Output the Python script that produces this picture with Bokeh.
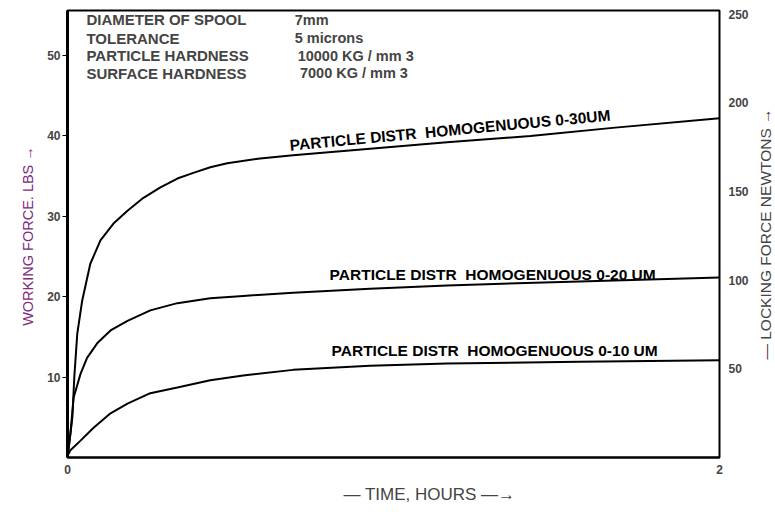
import math
from bokeh.plotting import figure
from bokeh.layouts import row
from bokeh.models import Range1d, LinearAxis, FixedTicker, Label, Title
from bokeh.embed import file_html
from bokeh.resources import INLINE

# ---- data (time in hours, working force in lbs) ----
hours_30 = [0, 0.015, 0.021, 0.030, 0.045, 0.070, 0.101, 0.141, 0.184, 0.233, 0.285,
            0.337, 0.386, 0.438, 0.490, 0.591, 0.692, 0.928, 1.164, 1.420, 1.672, 2.0]
force_30 = [0, 5.0, 10.1, 15.4, 19.5, 24.1, 27.0, 29.1, 30.7, 32.3, 33.6,
            34.7, 35.4, 36.1, 36.6, 37.2, 37.6, 38.4, 39.2, 40.0, 41.0, 42.2]

hours_20 = [0, 0.009, 0.019, 0.040, 0.060, 0.091, 0.132, 0.184, 0.254, 0.337, 0.438,
            0.539, 0.692, 0.928, 1.164, 1.570, 2.0]
force_20 = [0, 3.0, 7.5, 10.4, 12.4, 14.2, 15.8, 17.0, 18.3, 19.2, 19.8,
            20.1, 20.5, 21.0, 21.4, 21.9, 22.4]

hours_10 = [0, 0.009, 0.040, 0.080, 0.132, 0.184, 0.254, 0.337, 0.438, 0.539, 0.692,
            0.928, 1.164, 1.570, 2.0]
force_10 = [0.2, 0.9, 2.1, 3.7, 5.5, 6.7, 8.0, 8.7, 9.6, 10.2, 10.9,
            11.4, 11.7, 11.9, 12.1]

x_ticks = [0, 2]
lbs_ticks = [10, 20, 30, 40, 50]
newton_ticks = [50, 100, 150, 200, 250]

curve_labels = ["PARTICLE DISTR\u00a0 HOMOGENUOUS 0-30UM",
                "PARTICLE DISTR\u00a0 HOMOGENUOUS 0-20 UM",
                "PARTICLE DISTR\u00a0 HOMOGENUOUS 0-10 UM"]
spec_names = ["DIAMETER OF SPOOL", "TOLERANCE", "PARTICLE HARDNESS", "SURFACE HARDNESS"]
spec_values = ["7mm", "5 microns", "10000 KG / mm 3", "7000 KG / mm 3"]

FONT = "Liberation Sans"

p = figure(width=751, height=510, output_backend="svg", toolbar_location=None,
           x_range=Range1d(0, 2), y_range=Range1d(0, 55.6),
           min_border_left=67, min_border_right=30, min_border_top=10, min_border_bottom=53)
p.extra_y_ranges = {"newtons": Range1d(0, 252)}

p.xgrid.visible = False
p.ygrid.visible = False
p.outline_line_color = "black"
p.outline_line_width = 2
p.background_fill_color = "white"
p.border_fill_color = "white"

# x axis
xa = p.xaxis[0]
xa.ticker = FixedTicker(ticks=x_ticks)
xa.axis_line_width = 2
xa.major_tick_line_color = None
xa.major_tick_out = 0
xa.major_tick_in = 0
xa.minor_tick_line_color = None
xa.major_label_standoff = 7
xa.major_label_text_font = FONT
xa.major_label_text_font_style = "bold"
xa.major_label_text_font_size = "12px"

# left axis
ya = p.yaxis[0]
ya.ticker = FixedTicker(ticks=lbs_ticks)
ya.axis_line_width = 3
ya.major_tick_out = 5
ya.major_tick_in = 0
ya.minor_tick_line_color = None
ya.major_label_standoff = 2
ya.major_label_text_font = FONT
ya.major_label_text_font_style = "bold"
ya.major_label_text_font_size = "12px"
ya.axis_label = "WORKING FORCE. LBS  \u2192"
ya.axis_label_text_color = "#802a80"
ya.axis_label_text_font = FONT
ya.axis_label_text_font_style = "normal"
ya.axis_label_text_font_size = "14.5px"
ya.axis_label_standoff = 8

# right axis (tick labels only)
ra = LinearAxis(y_range_name="newtons", ticker=FixedTicker(ticks=newton_ticks))
ra.axis_line_color = None
ra.major_tick_line_color = None
ra.major_tick_out = 0
ra.major_tick_in = 0
ra.minor_tick_line_color = None
ra.minor_tick_out = 0
ra.minor_tick_in = 0
ra.major_label_standoff = 9
ra.major_label_text_font = FONT
ra.major_label_text_font_style = "bold"
ra.major_label_text_font_size = "12px"
p.add_layout(ra, "right")

# x axis title (as a title below the axis, shifted right)
xt = Title(text="\u2014 TIME, HOURS \u2014\u2192", align="left", offset=276,
           text_font=FONT, text_font_size="17px", text_font_style="normal", standoff=12)
p.add_layout(xt, "below")

# curves
for hx, fy in [(hours_30, force_30), (hours_20, force_20), (hours_10, force_10)]:
    p.line(hx, fy, line_color="black", line_width=2)

# curve labels
lab_specs = [(0.682, 38.85, 5.36, curve_labels[0]),
             (0.804, 22.8, 0.0, curve_labels[1]),
             (0.810, 13.35, 0.0, curve_labels[2])]
for lx, ly, ang, txt in lab_specs:
    p.add_layout(Label(x=lx, y=ly, text=txt, angle=ang, angle_units="deg",
                       text_font=FONT, text_font_size="15.5px", text_font_style="bold",
                       text_color="black", text_baseline="alphabetic", text_align="left"))

# specification block
rows_y = [54.45, 52.15, 49.95, 47.8]
vals_x = [0.697, 0.697, 0.706, 0.713]
for i in range(4):
    p.add_layout(Label(x=0.058, y=rows_y[i], text=spec_names[i], text_font=FONT,
                       text_font_size="15px", text_font_style="bold",
                       text_baseline="alphabetic"))
    p.add_layout(Label(x=vals_x[i], y=rows_y[i], text=spec_values[i], text_font=FONT,
                       text_font_size="14.5px", text_font_style="bold",
                       text_baseline="alphabetic"))

# narrow companion figure carrying the right-hand title (reads bottom to top)
p2 = figure(width=24, height=510, output_backend="svg", toolbar_location=None,
            x_range=Range1d(0, 1), y_range=Range1d(0, 1),
            min_border_left=22, min_border_right=0, min_border_top=10, min_border_bottom=53)
p2.outline_line_color = None
p2.xaxis.visible = False
p2.xgrid.visible = False
p2.ygrid.visible = False
p2.background_fill_color = "white"
p2.border_fill_color = "white"
ta = p2.yaxis[0]
ta.ticker = FixedTicker(ticks=[])
ta.axis_line_color = None
ta.major_tick_line_color = None
ta.minor_tick_line_color = None
ta.axis_label = "\u2014 LOCKING FORCE NEWTONS \u2192"
ta.axis_label_text_font = FONT
ta.axis_label_text_font_style = "normal"
ta.axis_label_text_font_size = "15.5px"
ta.axis_label_standoff = 0

layout = row(p, p2)
open("out.html", "w").write(file_html(layout, INLINE))
